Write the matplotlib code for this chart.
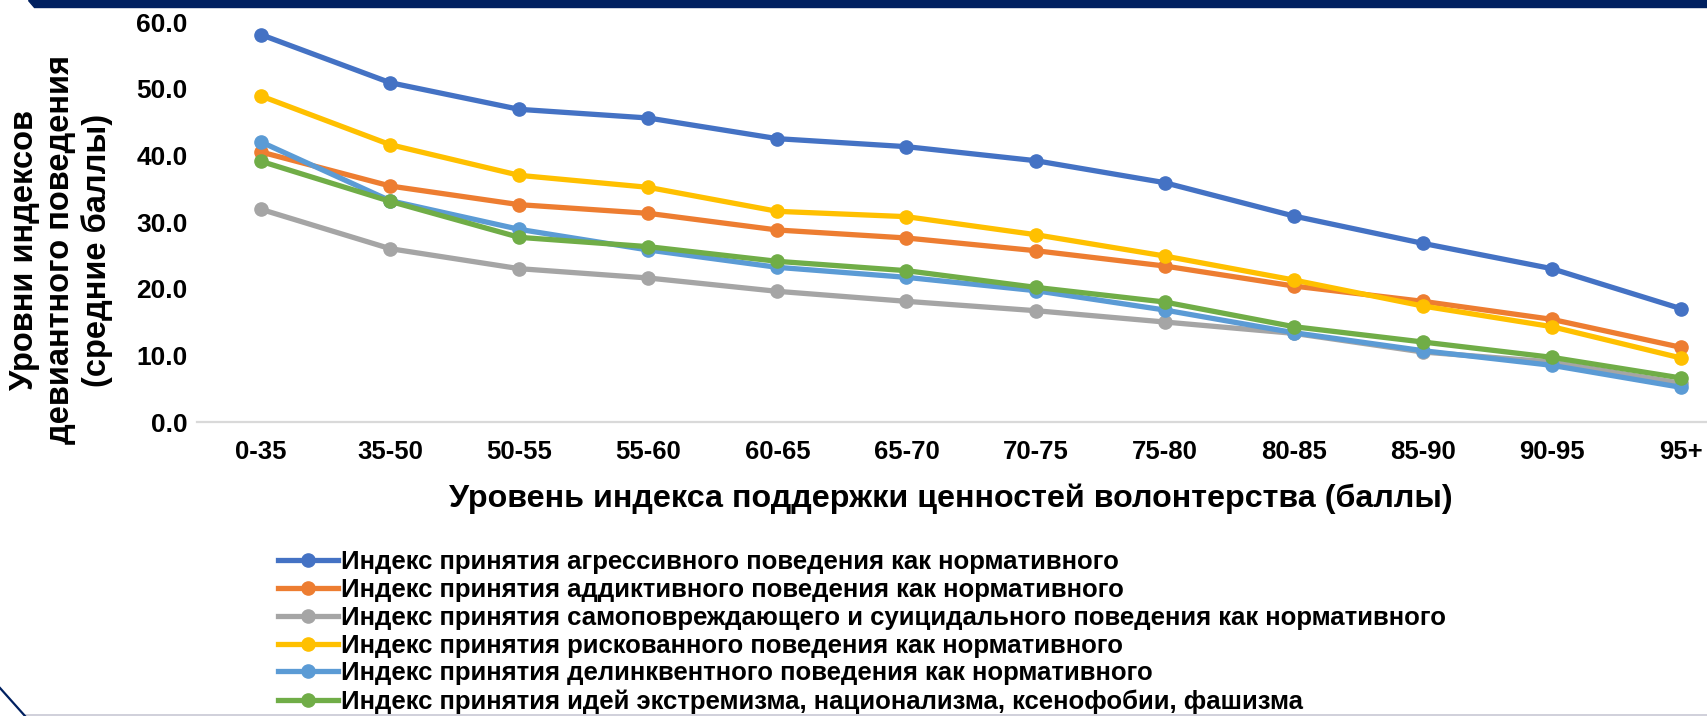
import numpy as np
import matplotlib.pyplot as plt
from matplotlib.patches import Polygon
from matplotlib.lines import Line2D

plt.rcParams['font.family'] = ['Liberation Sans', 'DejaVu Sans']
plt.rcParams['font.weight'] = 'bold'

# данные
categories = ['0-35', '35-50', '50-55', '55-60', '60-65', '65-70',
              '70-75', '75-80', '80-85', '85-90', '90-95', '95+']

aggressive = [58.1, 50.9, 46.9, 45.6, 42.5, 41.3, 39.2, 35.9, 30.9, 26.8, 23.0, 17.0]
addictive = [40.5, 35.4, 32.6, 31.3, 28.8, 27.6, 25.7, 23.4, 20.4, 18.1, 15.4, 11.2]
selfharm = [31.9, 26.0, 23.0, 21.6, 19.6, 18.1, 16.7, 15.0, 13.3, 10.5, 9.0, 5.8]
risky = [48.9, 41.6, 37.0, 35.2, 31.6, 30.8, 28.1, 24.9, 21.3, 17.4, 14.3, 9.6]
delinquent = [42.0, 33.2, 28.9, 25.8, 23.2, 21.7, 19.7, 16.8, 13.4, 10.7, 8.5, 5.2]
extremism = [39.1, 33.1, 27.7, 26.3, 24.1, 22.7, 20.2, 18.0, 14.3, 12.0, 9.7, 6.6]

series_labels = [
    'Индекс принятия агрессивного поведения как нормативного',
    'Индекс принятия аддиктивного поведения как нормативного',
    'Индекс принятия самоповреждающего и суицидального поведения как нормативного',
    'Индекс принятия рискованного поведения как нормативного',
    'Индекс принятия делинквентного поведения как нормативного',
    'Индекс принятия идей экстремизма, национализма, ксенофобии, фашизма',
]
colors = ['#4472C4', '#ED7D31', '#A5A5A5', '#FFC000', '#5B9BD5', '#70AD47']

W, H = 1708, 716
fig = plt.figure(figsize=(W / 100, H / 100), dpi=100)

# оси: 0 на y=422, 60 на y=22, категории от x=196.5 с шагом 129
ax = fig.add_axes([196.5 / W, (H - 422) / H, 1549 / W, 400 / H])

x = np.arange(len(categories))
all_series = [aggressive, addictive, selfharm, risky, delinquent, extremism]
for vals, lab, col in zip(all_series, series_labels, colors):
    ax.plot(x, vals, color=col, lw=3.8, marker='o', markersize=9.5,
            label=lab, clip_on=False, solid_joinstyle='round')

ax.set_xlim(-0.5, len(categories) - 0.5)
ax.set_ylim(0, 60)
ax.set_yticks(np.arange(0, 61, 10))
ax.set_yticklabels([f'{v:.1f}' for v in np.arange(0, 61, 10)])
ax.set_xticks(x)
ax.set_xticklabels(categories)
ax.tick_params(axis='y', length=0, pad=6.5, labelsize=19)
ax.tick_params(axis='x', length=0, pad=13, labelsize=18.5)

for s in ['top', 'right', 'left']:
    ax.spines[s].set_visible(False)
ax.spines['bottom'].set_color('#d9d9d9')
ax.spines['bottom'].set_linewidth(1.6)

ax.set_xlabel('Уровень индекса поддержки ценностей волонтерства (баллы)',
              fontsize=23.2, fontweight='bold', va='center')
ax.xaxis.set_label_coords((951 - 196.5) / 1549, (422 - 499) / 400)
ax.set_ylabel('Уровни индексов\nдевиантного поведения\n(средние баллы)',
              fontsize=23.5, fontweight='bold', va='center', ha='center',
              multialignment='center', linespacing=1.2)
ax.yaxis.set_label_coords((61 - 196.5) / 1549, (422 - 250) / 400)

ax.legend(loc='upper left', bbox_to_anchor=(278 / W, (H - 550) / H),
          bbox_transform=fig.transFigure, frameon=False, fontsize=18.5,
          handlelength=2.35, handletextpad=0.12, labelspacing=0.15,
          borderpad=0, borderaxespad=0)

# оформление слайда
band = Polygon([(28 / W, 1), (1, 1), (1, (H - 7) / H), (34 / W, (H - 7) / H)],
               closed=True, transform=fig.transFigure, color='#002060')
fig.patches.append(band)
fig.lines.append(Line2D([25 / W, 1], [1.2 / H, 1.2 / H], transform=fig.transFigure,
                        color='#c8c8d4', lw=1.2))
fig.lines.append(Line2D([0, 25 / W], [(H - 688) / H, 0], transform=fig.transFigure,
                        color='#002060', lw=1.6))

fig.savefig('out.png', dpi=100)
